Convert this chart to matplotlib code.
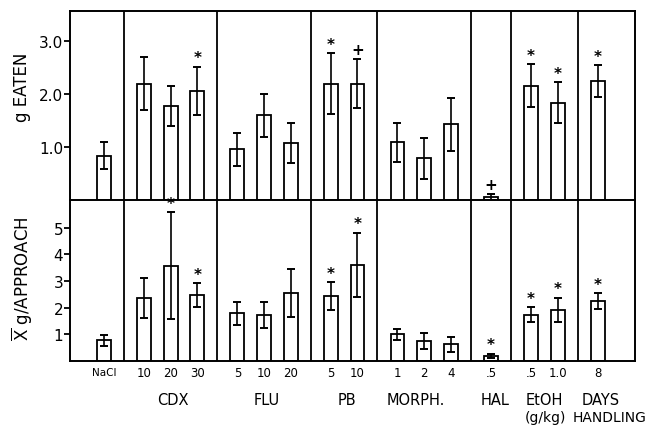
import matplotlib.pyplot as plt
import numpy as np

plt.rcParams['font.family'] = ['DejaVu Sans']
plt.rcParams['mathtext.fontset'] = 'dejavusans'

# groups and doses
groups = ['NaCl', 'CDX', 'FLU', 'PB', 'MORPH.', 'HAL', 'EtOH', 'DAYS']
doses = [['NaCl'], ['10', '20', '30'], ['5', '10', '20'], ['5', '10'],
         ['1', '2', '4'], ['.5'], ['.5', '1.0'], ['8']]

# g eaten (top panel)
eaten = [0.84, 2.2, 1.78, 2.06, 0.96, 1.6, 1.08, 2.2, 2.2, 1.09, 0.79, 1.43, 0.06, 2.16, 1.84, 2.25]
eaten_err = [0.25, 0.5, 0.38, 0.46, 0.31, 0.41, 0.38, 0.57, 0.47, 0.37, 0.39, 0.5, 0.06, 0.4, 0.38, 0.3]
eaten_sig = ['', '', '', '*', '', '', '', '*', '+', '', '', '', '+', '*', '*', '*']

# mean g/approach (bottom panel)
approach = [0.78, 2.35, 3.58, 2.46, 1.79, 1.73, 2.56, 2.44, 3.61, 1.0, 0.75, 0.63, 0.2, 1.74, 1.93, 2.24]
approach_err = [0.2, 0.75, 2.0, 0.45, 0.42, 0.5, 0.9, 0.52, 1.2, 0.22, 0.3, 0.28, 0.08, 0.28, 0.45, 0.3]
approach_sig = ['', '', '*', '*', '', '', '', '*', '*', '', '', '', '*', '*', '*', '*']

# x layout: step 1 inside a group, 1.5 between groups
pos = []
dividers = []
x = 1.27
for gi, d in enumerate(doses):
    if gi > 0:
        dividers.append(x - 0.75)
    for k in range(len(d)):
        pos.append(x)
        x += 1
    x += 0.5
pos = np.array(pos)
xmax = 21.16

fig = plt.figure(figsize=(6.55, 4.27), dpi=100)
ax1 = fig.add_axes([0.107, 0.529, 0.862, 0.443])
ax2 = fig.add_axes([0.107, 0.152, 0.862, 0.377])

def panel(ax, vals, errs, sig, ymax, ticks, ticklabels):
    ax.bar(pos, vals, width=0.52, facecolor='white', edgecolor='black', linewidth=1.3, zorder=2)
    ax.errorbar(pos, vals, yerr=errs, fmt='none', ecolor='black', capsize=3,
                elinewidth=1.2, capthick=1.4, zorder=3)
    for p, v, e, s in zip(pos, vals, errs, sig):
        if s:
            ax.annotate(s, (p, v + e), xytext=(0, 1), textcoords='offset points',
                        ha='center', va='bottom', fontsize=11, fontweight='bold',
                        annotation_clip=False)
    for d in dividers:
        ax.axvline(d, color='black', lw=1.3)
    ax.set_xlim(0, xmax)
    ax.set_ylim(0, ymax)
    ax.set_xticks([])
    ax.set_yticks(ticks)
    ax.set_yticklabels(ticklabels, fontsize=11)
    ax.tick_params(axis='y', length=4, width=1.3, pad=1)
    for sp in ax.spines.values():
        sp.set_linewidth(1.4)

panel(ax1, eaten, eaten_err, eaten_sig, 3.57, [1, 2, 3], ['1.0', '2.0', '3.0'])
panel(ax2, approach, approach_err, approach_sig, 6.03, [1, 2, 3, 4, 5], ['1', '2', '3', '4', '5'])
ax1.spines['bottom'].set_visible(False)

fig.text(0.034, 1 - 87 / 427, 'g EATEN', rotation=90, ha='center', va='center', fontsize=12)
fig.text(0.034, 1 - 279 / 427, r'$\overline{\mathrm{X}}$ g/APPROACH', rotation=90,
         ha='center', va='center', fontsize=12)

# dose labels
flat = [lab for d in doses for lab in d]
for p, lab in zip(pos, flat):
    ax2.text(p, -0.42, lab, ha='center', va='center', fontsize=8.5 if lab != 'NaCl' else 7.5)

# group labels
gy = -1.42
gy2 = -2.1
shift = {'MORPH.': -0.33, 'HAL': 0.15, 'EtOH': 0.0, 'DAYS': 0.1}
k = 0
for g, d in zip(groups, doses):
    c = pos[k:k + len(d)].mean()
    k += len(d)
    if g == 'NaCl':
        continue
    ax2.text(c + shift.get(g, 0.1), gy, g, ha='center', va='center', fontsize=10.5)
    if g == 'EtOH':
        ax2.text(c + 0.05, gy2, '(g/kg)', ha='center', va='center', fontsize=10)
    if g == 'DAYS':
        ax2.text(c + 0.45, gy2, 'HANDLING', ha='center', va='center', fontsize=10)

fig.savefig('out.png', dpi=100)
